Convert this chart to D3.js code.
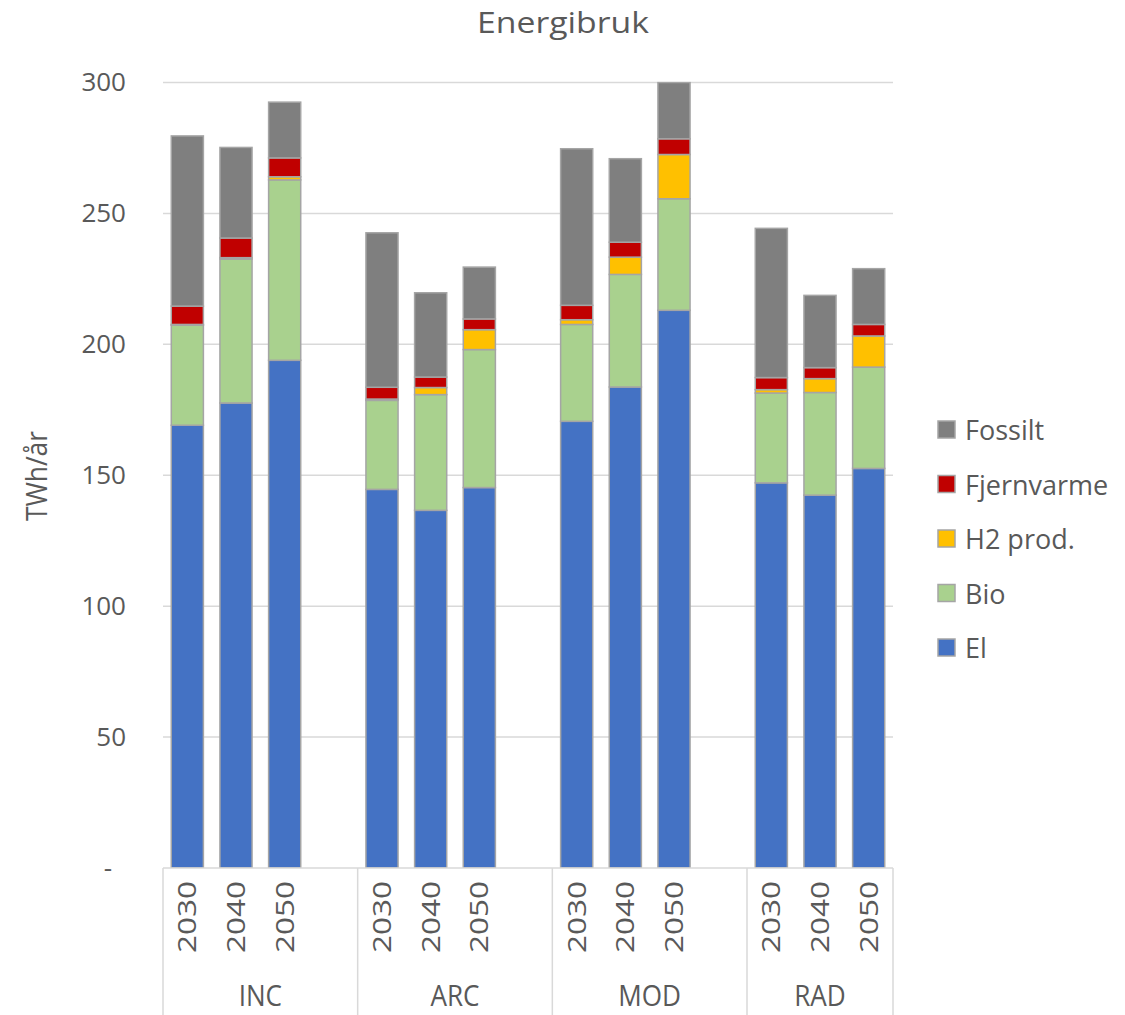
<!DOCTYPE html>
<html>
<head>
<meta charset="utf-8">
<script src="https://cdn.jsdelivr.net/npm/d3@7"></script>
<style>
  body { margin: 0; background: #fff; overflow: hidden; }
  text { font-family: "Open Sans", "Noto Sans", sans-serif; fill: #595959; }
</style>
</head>
<body>
<div class="chart"></div>
<script>
// scenario groups and years on the category axis
const scenarios = ['INC', 'ARC', 'MOD', 'RAD'];
const years = ['2030', '2040', '2050'];

// TWh/år per series, ordered INC 2030..2050, ARC.., MOD.., RAD..
const elValues        = [169.1, 177.6, 193.9, 144.6, 136.6, 145.3, 170.6, 183.7, 213.0, 147.1, 142.4, 152.6];
const bioValues       = [38.2, 55.0, 68.9, 34.0, 44.2, 52.7, 37.0, 43.0, 42.6, 34.3, 39.2, 38.7];
const h2Values        = [0.3, 0.5, 1.2, 0.5, 2.7, 7.6, 1.8, 6.6, 16.9, 1.3, 5.3, 11.9];
const fjernvarmeValues = [7.0, 7.5, 7.2, 4.5, 4.0, 4.1, 5.5, 5.7, 6.0, 4.6, 4.2, 4.4];
const fossiltValues   = [65.0, 34.6, 21.3, 59.0, 32.2, 19.8, 59.8, 31.9, 21.5, 57.0, 27.6, 21.3];

const seriesNames = ['El', 'Bio', 'H2 prod.', 'Fjernvarme', 'Fossilt'];
const yTicks = [0, 50, 100, 150, 200, 250, 300];

const colors = {
  'El': '#4472C4', 'Bio': '#A9D18E', 'H2 prod.': '#FFC000',
  'Fjernvarme': '#C00000', 'Fossilt': '#7F7F7F'
};

let w = 1125, h = 1015,
    mLeft = 163, mRight = 893, mTop = 82.5, mBottom = 868;

// rows for the stack
const rows = [];
scenarios.forEach((s, si) => {
  years.forEach((y, yi) => {
    const i = si * 3 + yi;
    rows.push({
      key: s + '-' + y, scenario: s, year: y,
      'El': elValues[i], 'Bio': bioValues[i], 'H2 prod.': h2Values[i],
      'Fjernvarme': fjernvarmeValues[i], 'Fossilt': fossiltValues[i]
    });
  });
});

// slots, with a blank one after each group except the last
const slots = [];
scenarios.forEach((s, si) => {
  years.forEach(y => slots.push(s + '-' + y));
  if (si < scenarios.length - 1) slots.push(s + '-gap');
});

const xScale = d3.scaleBand()
                 .domain(slots)
                 .range([mLeft, mRight])
                 .paddingInner(0.34)
                 .paddingOuter(0.17);

const slotW = (mRight - mLeft) / slots.length;

const yScale = d3.scaleLinear()
                 .domain([0, 300])
                 .range([mBottom, mTop]);

const svg = d3.select('.chart')
              .append('svg')
              .attr('width', w)
              .attr('height', h);

// gridlines
svg.append('g')
   .selectAll('line')
   .data(yTicks.filter(d => d > 0))
   .enter()
   .append('line')
   .attr('x1', mLeft).attr('x2', mRight)
   .attr('y1', d => yScale(d)).attr('y2', d => yScale(d))
   .attr('stroke', '#D9D9D9')
   .attr('stroke-width', 1.5);

// y axis labels
const yAxis = d3.axisLeft(yScale)
                .tickValues(yTicks)
                .tickFormat(d => d === 0 ? '-' : d)
                .tickSize(0)
                .tickPadding(37);

const yG = svg.append('g')
              .attr('transform', `translate(${mLeft},0)`)
              .call(yAxis);
yG.select('.domain').remove();
yG.selectAll('text')
  .style('font-size', '26px')
  .style('font-family', '"Open Sans", sans-serif')
  .attr('fill', '#595959')
  .attr('dx', d => d === 0 ? -14 : 0);

// stacked bars
const stack = d3.stack().keys(seriesNames);
const stacked = stack(rows);

svg.append('defs').append('clipPath').attr('id', 'plotClip')
   .append('rect').attr('x', mLeft).attr('y', mTop - 1).attr('width', mRight - mLeft).attr('height', mBottom - mTop + 1);

svg.append('g')
   .attr('clip-path', 'url(#plotClip)')
   .selectAll('g')
   .data(stacked)
   .enter()
   .append('g')
   .attr('fill', d => colors[d.key])
   .selectAll('rect')
   .data(d => d)
   .enter()
   .append('rect')
   .attr('x', d => xScale(d.data.key))
   .attr('width', xScale.bandwidth())
   .attr('y', d => yScale(d[1]))
   .attr('height', d => Math.max(0, yScale(d[0]) - yScale(d[1])))
   .attr('stroke', '#A5A5A5')
   .attr('stroke-width', 1.5);

// category axis line
svg.append('line')
   .attr('x1', mLeft).attr('x2', mRight)
   .attr('y1', mBottom).attr('y2', mBottom)
   .attr('stroke', '#D9D9D9')
   .attr('stroke-width', 1.5);

// group separators
const sepX = [mLeft];
scenarios.forEach((s, si) => {
  const n = si < scenarios.length - 1 ? 4 : 3;
  sepX.push(sepX[sepX.length - 1] + n * slotW);
});
svg.append('g')
   .selectAll('line')
   .data(sepX)
   .enter()
   .append('line')
   .attr('x1', d => d).attr('x2', d => d)
   .attr('y1', mBottom).attr('y2', h)
   .attr('stroke', '#D9D9D9')
   .attr('stroke-width', 1.5);

// year labels
svg.append('g')
   .selectAll('text')
   .data(rows)
   .enter()
   .append('text')
   .attr('transform', d => `translate(${xScale(d.key) + xScale.bandwidth() / 2 + 9},917) rotate(-90)`)
   .attr('text-anchor', 'middle')
   .style('font-size', '26px')
   .attr('textLength', 72)
   .attr('lengthAdjust', 'spacingAndGlyphs')
   .text(d => d.year);

// group labels (narrow)
svg.append('g')
   .selectAll('text')
   .data(scenarios)
   .enter()
   .append('text')
   .attr('x', (d, i) => (sepX[i] + sepX[i + 1]) / 2)
   .attr('y', 1006)
   .attr('text-anchor', 'middle')
   .style('font-size', '30px')
   .text(d => d)
   .each(function () {
     const len = this.getComputedTextLength();
     d3.select(this).attr('textLength', len * 0.87).attr('lengthAdjust', 'spacingAndGlyphs');
   });

// title
svg.append('text')
   .attr('x', 563)
   .attr('y', 33)
   .attr('text-anchor', 'middle')
   .style('font-size', '29px')
   .attr('textLength', 172)
   .attr('lengthAdjust', 'spacingAndGlyphs')
   .text('Energibruk');

// y axis title
svg.append('text')
   .attr('transform', 'translate(47,476) rotate(-90)')
   .attr('text-anchor', 'middle')
   .style('font-size', '29px')
   .attr('textLength', 90)
   .attr('lengthAdjust', 'spacingAndGlyphs')
   .text('TWh/år');

// legend, top to bottom: Fossilt .. El
const legendItems = seriesNames.slice().reverse();
const legend = svg.append('g')
                  .selectAll('g')
                  .data(legendItems)
                  .enter()
                  .append('g')
                  .attr('transform', (d, i) => `translate(938,${430 + i * 54.5})`);
legend.append('rect')
      .attr('x', 0).attr('y', -9)
      .attr('width', 17).attr('height', 17)
      .attr('fill', d => colors[d])
      .attr('stroke', '#A5A5A5')
      .attr('stroke-width', 1.5);
legend.append('text')
      .attr('x', 27)
      .attr('y', 10)
      .style('font-size', '27px')
      .text(d => d);
</script>
</body>
</html>
